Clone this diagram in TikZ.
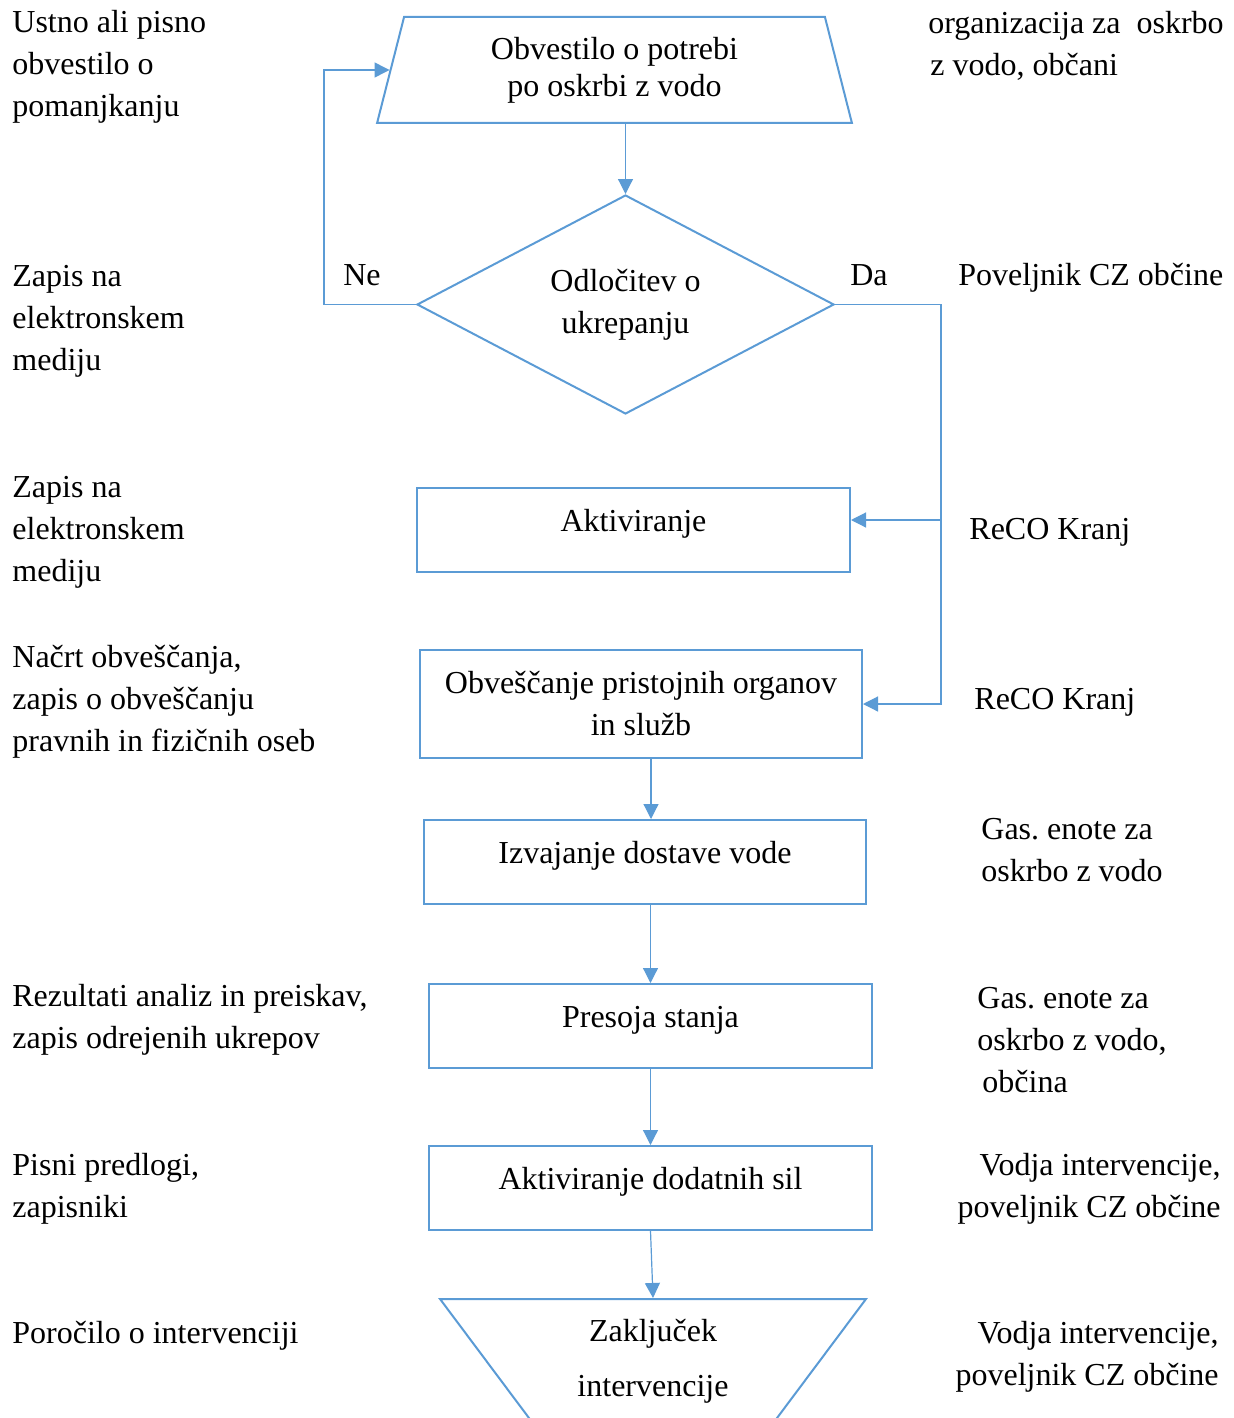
\documentclass[tikz,border=0pt]{standalone}
\usepackage{fontspec}
\setmainfont{Liberation Serif}
\usetikzlibrary{shapes.geometric, arrows.meta}
\definecolor{fcblue}{HTML}{5B9BD5}
\frenchspacing

\begin{document}
\begin{tikzpicture}[x=0.5pt, y=-0.5pt,
 every node/.style={font=\fontsize{16pt}{21pt}\selectfont},
 boxbase/.style={draw=fcblue, line width=1pt, inner sep=0pt},
 stepbox/.style={boxbase, text height=21.8pt, text depth=20.2pt},
 side/.style={anchor=west, align=left, inner sep=0pt, yshift=-1.5pt},
 flow/.style={draw=fcblue, line width=0.6pt, -{Triangle[length=7.5pt, width=7.5pt]}}]
 \useasboundingbox (0,0) rectangle (1234,1418);
%フローの本体
 \node[boxbase, trapezium, trapezium left angle=76.5, trapezium right angle=76.5, trapezium stretches=true, minimum width=237.5pt, minimum height=53pt, align=center] (obv) at (614.5,70) {Obvestilo o potrebi\\[-2.5pt]po oskrbi z vodo};
 \node[boxbase, diamond, aspect=1.9, minimum width=208.5pt, minimum height=109.5pt, align=center] (odl) at (625.5,304.5) {Odločitev o\\ukrepanju};
 \node[stepbox, minimum width=216.5pt] (akt) at (633.5,529.5) {Aktiviranje};
 \node[boxbase, minimum width=221pt, minimum height=54pt, align=center] (obs) at (641,704) {Obveščanje pristojnih organov\\in služb};
 \node[stepbox, minimum width=221pt] (izv) at (645,862) {Izvajanje dostave vode};
 \node[stepbox, minimum width=221.5pt] (pre) at (650.5,1026) {Presoja stanja};
 \node[stepbox, minimum width=221.5pt] (dod) at (650.5,1188) {Aktiviranje dodatnih sil};
 \node[boxbase, trapezium, shape border rotate=180, trapezium left angle=55.3, trapezium right angle=55.3, trapezium stretches=true, minimum width=213pt, minimum height=62pt, align=center] (zak) at (653,1361) {Zaključek\\[6.5pt]intervencije};
 \node (ne) at (362,275) {Ne};
 \node (da) at (869,275) {Da};
 \draw[flow] (odl.north |- obv.south) -- (odl.north);
 \draw[flow] (odl.west) -- ++(-92,0) |- (obv.west);
 \draw[flow] (odl.east) -- ++(106,0) coordinate (dabus) |- ([yshift=4.75pt]akt.east);
 \draw[flow] (dabus) |- (obs.east);
 \draw[flow] ([xshift=3pt]izv.north |- obs.south) -- ([xshift=3pt]izv.north);
 \draw[flow] (pre.north |- izv.south) -- (pre.north);
 \draw[flow] (pre.south) -- (dod.north);
 \draw[flow] (dod.south) -- (zak.north);
%左右の説明
 \node[side] (vir1) at (12,64) {Ustno ali pisno\\obvestilo o\\pomanjkanju};
 \node[side] (vir2) at (12,318) {Zapis na\\elektronskem\\mediju};
 \node[side] (vir3) at (12,529) {Zapis na\\elektronskem\\mediju};
 \node[side] (vir4) at (12,699) {Načrt obveščanja,\\zapis o obveščanju\\pravnih in fizičnih oseb};
 \node[side] (vir5) at (12,1016.5) {Rezultati analiz in preiskav,\\zapis odrejenih ukrepov};
 \node[side] (vir6) at (12,1186) {Pisni predlogi,\\zapisniki};
 \node[side] (vir7) at (12,1333) {Poročilo o intervenciji};
 \node[side] (nos1) at (928,43) {organizacija za~ oskrbo\\\hspace{1pt}z vodo, občani};
 \node[side] (nos2) at (958,275) {Poveljnik CZ občine};
 \node[side] (nos3) at (969,529) {ReCO Kranj};
 \node[side] (nos4) at (974,699) {ReCO Kranj};
 \node[side] (nos5) at (981,847) {Gas. enote za\\oskrbo z vodo};
 \node[side] (nos6) at (977,1037.5) {Gas. enote za\\oskrbo z vodo,\\\hspace{2.5pt}občina};
 \node[side, anchor=east, align=right] (nos7) at (1221,1186) {Vodja intervencije,\\poveljnik CZ občine};
 \node[side, anchor=east, align=right] (nos8) at (1219,1354) {Vodja intervencije,\\poveljnik CZ občine};
\end{tikzpicture}
\end{document}
